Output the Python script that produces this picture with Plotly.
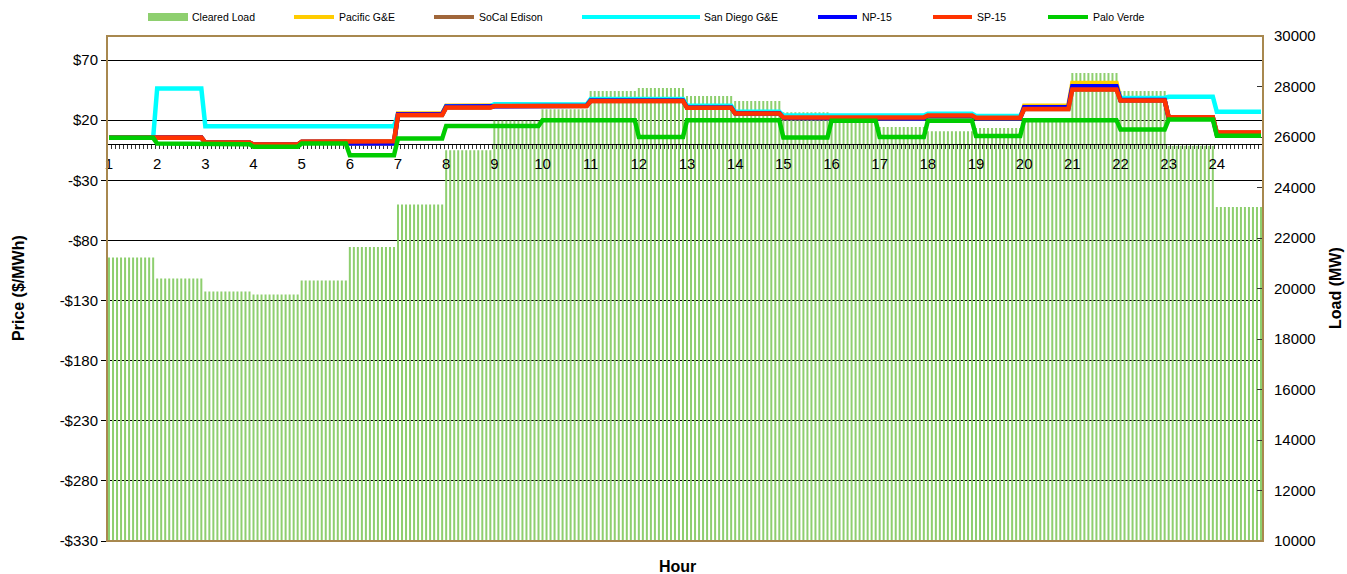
import numpy as np
import plotly.graph_objects as go

# ---- hourly market data (24 hours, shown as 5-minute intervals) ----
hours = list(range(1, 25))
intervals_per_hour = 12

cleared_load = [21230, 20400, 19880, 19760, 20320, 21640, 23330, 25480,
                26640, 27100, 27820, 27940, 27620, 27430, 26980, 26700,
                26400, 26230, 26360, 26750, 28530, 27820, 25650, 23230]

pacific_ge = [5.3, 5.6, 1.2, -0.5, 1.8, 0.5, 25.6, 32.0, 32.5, 32.5, 36.6, 36.6,
              30.8, 26.0, 21.8, 21.8, 21.4, 23.3, 21.6, 32.0, 51.0, 37.0, 22.2, 8.0]
socal_edison = [5.3, 5.6, 1.4, -0.3, 2.0, 2.5, 24.2, 30.5, 31.7, 31.7, 36.0, 36.0,
                30.3, 25.6, 22.2, 22.5, 22.3, 23.8, 22.0, 29.2, 45.6, 36.4, 22.5, 9.7]
san_diego_ge = [5.3, 46.4, 15.0, 15.0, 15.0, 15.0, 24.8, 31.5, 33.3, 33.0, 37.7, 37.5,
                32.0, 27.0, 23.8, 24.0, 23.9, 25.3, 23.5, 29.5, 46.0, 38.5, 39.5, 26.9]
np15 = [5.3, 5.6, 1.2, -0.5, 1.8, 0.5, 25.0, 31.3, 32.0, 32.0, 36.3, 36.3,
        30.6, 25.8, 21.7, 21.7, 21.3, 23.2, 21.5, 30.8, 48.3, 36.8, 22.0, 8.0]
sp15 = [5.3, 5.6, 1.4, -0.3, 2.0, 2.5, 24.2, 30.5, 31.7, 31.7, 36.0, 36.0,
        30.3, 25.6, 22.2, 22.5, 22.3, 23.8, 22.0, 29.2, 45.6, 36.4, 22.5, 9.7]
palo_verde = [5.3, 0.6, 0.0, -2.2, 0.5, -9.2, 4.7, 15.2, 15.2, 20.0, 20.0, 6.0,
              20.0, 20.0, 5.5, 19.5, 6.0, 19.5, 6.8, 20.0, 20.0, 12.2, 20.5, 7.0]

price_ticks = [-330, -280, -230, -180, -130, -80, -30, 20, 70]
load_ticks = list(range(10000, 30001, 2000))

series = [
    ("Pacific G&E", pacific_ge, "#FFCC00"),
    ("SoCal Edison", socal_edison, "#A0663A"),
    ("San Diego G&E", san_diego_ge, "#00FFFF"),
    ("NP-15", np15, "#0000FF"),
    ("SP-15", sp15, "#FF3300"),
    ("Palo Verde", palo_verde, "#00CC00"),
]
load_color = "#8ECF6F"
frame_color = "#A8884F"
FONT = "Liberation Sans, Arial, sans-serif"

# five-minute index; each hourly value holds for its twelve intervals
n = len(hours) * intervals_per_hour
idx = np.arange(n)
x_range = [-0.5, n - 0.5]
price_range = [-330, 90]
load_range = [10000, 30000]

fig = go.Figure()

# placeholder on the price axis so its subplot (grid, ticks) is built
fig.add_trace(go.Scatter(x=[None], y=[None], xaxis="x", yaxis="y",
                         mode="lines", showlegend=False, hoverinfo="skip"))

# cleared load bars on the right-hand axis (main subplot)
fig.add_trace(go.Bar(
    x=idx, y=np.repeat(cleared_load, intervals_per_hour),
    name="Cleared Load", marker=dict(color=load_color, line=dict(width=0)),
    xaxis="x", yaxis="y2", showlegend=False,
))

# price lines on a second subplot stacked over the first
for name, vals, color in series:
    fig.add_trace(go.Scatter(
        x=idx, y=np.repeat(vals, intervals_per_hour), mode="lines",
        name=name, line=dict(color=color, width=4.5),
        xaxis="x2", yaxis="y3", showlegend=False,
    ))

# plot area in pixels
W, H = 1347, 574
L, R, T, B = 107, 1263, 36, 541
pw, ph = R - L, B - T


def px_x(p):
    return (p - L) / pw


def px_y(p):
    return (B - p) / ph


zero_pos = (0 - price_range[0]) / (price_range[1] - price_range[0])

fig.update_layout(
    width=W, height=H,
    margin=dict(l=L, r=W - R, t=T, b=H - B, pad=0),
    paper_bgcolor="white", plot_bgcolor="rgba(0,0,0,0)",
    font=dict(family=FONT, color="black"),
    bargap=0.5,
    showlegend=False,
    xaxis=dict(
        range=x_range, anchor="free", position=zero_pos,
        tickmode="array", tickvals=[(h - 1) * intervals_per_hour for h in hours],
        ticktext=[str(h) for h in hours], ticks="",
        ticklabelstandoff=6,
        tickfont=dict(size=15, family=FONT),
        showline=True, linecolor="black", linewidth=1,
        showgrid=False, zeroline=False, layer="above traces",
        minor=dict(tickmode="linear", tick0=-0.5, dtick=1, ticks="outside",
                   ticklen=4, tickcolor="#333333", tickwidth=1, showgrid=False),
    ),
    yaxis=dict(
        range=price_range, anchor="x", side="left",
        tickmode="array", tickvals=price_ticks,
        ticktext=[("-$" if v < 0 else "$") + str(abs(v)) for v in price_ticks],
        ticks="outside", ticklen=5, tickcolor="black",
        tickfont=dict(size=15, family=FONT),
        showgrid=True, gridcolor="black", gridwidth=1,
        zeroline=False, showline=False,
    ),
    yaxis2=dict(
        range=load_range, overlaying="y", side="right", anchor="x",
        tickmode="array", tickvals=load_ticks,
        ticktext=[str(v) for v in load_ticks],
        ticks="inside", ticklen=6, tickcolor="#333333",
        ticklabelstandoff=10,
        tickfont=dict(size=15, family=FONT),
        showgrid=False, zeroline=False, showline=False,
    ),
    xaxis2=dict(range=x_range, anchor="y3", visible=False),
    yaxis3=dict(range=price_range, anchor="x2", visible=False),
)

# frame around the plot area
fig.add_shape(type="rect", xref="paper", yref="paper", x0=0, x1=1, y0=0, y1=1,
              line=dict(color=frame_color, width=2), layer="above")

annotations = [
    dict(text="<b>Price ($/MWh)</b>", x=px_x(18), y=px_y(288), textangle=-90,
         font=dict(size=16, family=FONT)),
    dict(text="<b>Load (MW)</b>", x=px_x(1335), y=px_y(288), textangle=-90,
         font=dict(size=16, family=FONT)),
    dict(text="<b>Hour</b>", x=px_x(677), y=px_y(566),
         font=dict(size=16, family=FONT)),
]

# legend keys along the top
legend_y = 17
key_spans = {
    "Cleared Load": (148, 188, 190),
    "Pacific G&E": (294, 334, 337),
    "SoCal Edison": (434, 474, 477),
    "San Diego G&E": (582, 700, 702),
    "NP-15": (818, 857, 860),
    "SP-15": (933, 972, 975),
    "Palo Verde": (1048, 1088, 1091),
}
x0, x1, tx = key_spans["Cleared Load"]
fig.add_shape(type="rect", xref="paper", yref="paper",
              x0=px_x(x0), x1=px_x(x1), y0=px_y(legend_y + 4), y1=px_y(legend_y - 4),
              fillcolor=load_color, line=dict(width=0))
annotations.append(dict(text="Cleared Load", x=px_x(tx), y=px_y(legend_y),
                        xanchor="left", font=dict(size=10.5, family=FONT)))
for name, _, color in series:
    x0, x1, tx = key_spans[name]
    fig.add_shape(type="line", xref="paper", yref="paper",
                  x0=px_x(x0), x1=px_x(x1), y0=px_y(legend_y), y1=px_y(legend_y),
                  line=dict(color=color, width=4))
    annotations.append(dict(text=name, x=px_x(tx), y=px_y(legend_y),
                            xanchor="left", font=dict(size=10.5, family=FONT)))

for a in annotations:
    a.setdefault("xref", "paper")
    a.setdefault("yref", "paper")
    a.setdefault("showarrow", False)
    a.setdefault("yanchor", "middle")
    a.setdefault("xanchor", "center")
fig.update_layout(annotations=annotations)

fig.write_html("out.html")
